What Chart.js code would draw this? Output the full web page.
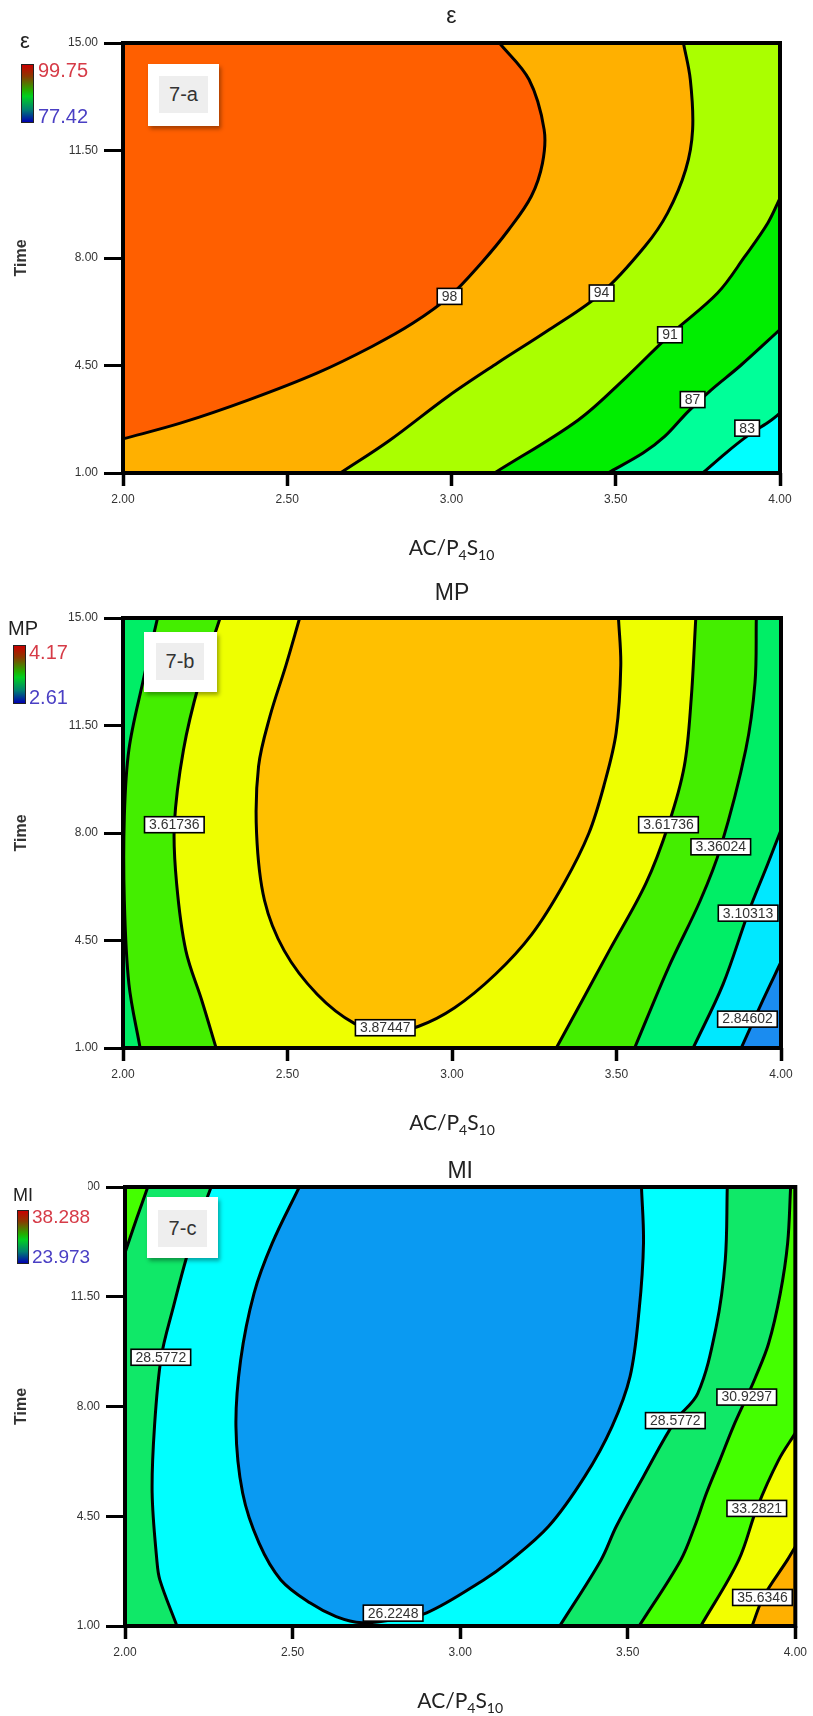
<!DOCTYPE html>
<html>
<head>
<meta charset="utf-8">
<title>Contour plots 7-a / 7-b / 7-c</title>
<script src="https://cdn.jsdelivr.net/npm/chart.js@4.4.1/dist/chart.umd.min.js"></script>
<style>
  html, body { margin: 0; padding: 0; background: #fff; }
  #page { position: relative; width: 813px; height: 1716px; overflow: hidden;
          font-family: "Liberation Sans", Arial, sans-serif; color: #222; }
  #page canvas { position: absolute; left: 0; }
  .txt { position: absolute; white-space: nowrap; }
  .bar { position: absolute; border: 1px solid #222;
         background: linear-gradient(to bottom, #c80000 0%, #8a3a00 20%, #20b000 45%, #00d020 55%, #008070 78%, #0000b0 100%); }
  .hi { color: #d63b47; }
  .lo { color: #4a3fc4; }
  .tag { position: absolute; background: #fff; box-shadow: 2px 3px 4px rgba(0,0,0,0.35); }
  .tag div { position: absolute; background: #eeeeee; color: #333; font-size: 20px; text-align: center; }
</style>
</head>
<body>
<div id="page">
  <canvas id="chartA" width="813" height="572" style="top:0px"></canvas>
  <canvas id="chartB" width="813" height="572" style="top:572px"></canvas>
  <canvas id="chartC" width="813" height="572" style="top:1144px"></canvas>

  <!-- colour keys -->
  <div class="txt" style="left:20px;top:27px;font-size:22px;line-height:28px;">ε</div>
  <div class="bar" style="left:21px;top:64px;width:11px;height:57px;"></div>
  <div class="txt hi" style="left:38px;top:59px;font-size:20px;line-height:22px;">99.75</div>
  <div class="txt lo" style="left:38px;top:105px;font-size:20px;line-height:22px;">77.42</div>

  <div class="txt" style="left:8px;top:617px;font-size:20px;line-height:22px;">MP</div>
  <div class="bar" style="left:13px;top:645px;width:11px;height:57px;"></div>
  <div class="txt hi" style="left:29px;top:641px;font-size:20px;line-height:22px;">4.17</div>
  <div class="txt lo" style="left:29px;top:686px;font-size:20px;line-height:22px;">2.61</div>

  <div style="position:absolute;left:0;top:1176px;width:88px;height:92px;background:#fff;"></div>
  <div class="txt" style="left:13px;top:1185px;font-size:18px;line-height:20px;">MI</div>
  <div class="bar" style="left:17px;top:1210px;width:10px;height:52px;"></div>
  <div class="txt hi" style="left:32px;top:1206px;font-size:19px;line-height:22px;">38.288</div>
  <div class="txt lo" style="left:32px;top:1246px;font-size:19px;line-height:22px;">23.973</div>

  <!-- panel tags -->
  <div class="tag" style="left:148px;top:64px;width:71px;height:62px;"><div style="left:11px;top:12px;width:49px;height:37px;line-height:37px;">7-a</div></div>
  <div class="tag" style="left:144px;top:632px;width:73px;height:60px;"><div style="left:12px;top:11px;width:48px;height:37px;line-height:37px;">7-b</div></div>
  <div class="tag" style="left:147px;top:1197px;width:71px;height:61px;"><div style="left:11px;top:13px;width:49px;height:37px;line-height:37px;">7-c</div></div>
</div>

<script>
/*******************************************
 * DATA
 *******************************************/

const xTickValues = [2, 2.5, 3, 3.5, 4];
const yTickValues = [1, 4.5, 8, 11.5, 15];
const xTitleParts = [["AC/P", false], ["4", true], ["S", false], ["10", true]];

// 7-a : epsilon contours, [AC/P4S10, Time]
const epsC98 = [[3.146, 15], [3.236, 13.81], [3.282, 12.18], [3.277, 11.09], [3.243, 10.01], [3.174, 8.92], [3.091, 7.84], [2.994, 6.75], [2.883, 5.88], [2.758, 5.12], [2.592, 4.26], [2.385, 3.39], [2.177, 2.63], [2.0, 2.11]];
const epsC94 = [[3.706, 15], [3.727, 13.81], [3.734, 12.18], [3.713, 10.88], [3.658, 9.47], [3.589, 8.38], [3.457, 6.86], [3.298, 5.67], [3.14, 4.58], [2.99, 3.5], [2.81, 2.05], [2.662, 1]];
const epsC91 = [[4, 9.95], [3.963, 9.14], [3.893, 8.05], [3.81, 6.86], [3.665, 5.5], [3.53, 4.1], [3.385, 2.72], [3.131, 1]];
const epsC87 = [[4, 5.67], [3.88, 4.5], [3.79, 3.7], [3.72, 3.0], [3.649, 2.19], [3.583, 1.65], [3.476, 1]];
const epsC83 = [[4, 2.95], [3.973, 2.72], [3.9, 2.2], [3.835, 1.65], [3.765, 1]];
const epsLabels = [[2.994, 6.75, "98"], [3.457, 6.86, "94"], [3.665, 5.5, "91"], [3.734, 3.39, "87"], [3.9, 2.46, "83"]];

// 7-b : MP contours
const mpL1 = [[4, 3.8], [3.945, 2.56], [3.879, 1]];                                   // 2.84602
const mpL2 = [[4, 8.1], [3.96, 7.0], [3.9, 5.39], [3.824, 3.08], [3.733, 1]];        // 3.10313
const mpL3a = [[2.105, 15], [2.06, 12.9], [2.018, 10.72], [2.004, 8.53], [2.004, 5.81], [2.018, 3.08], [2.052, 1]];
const mpL3b = [[3.925, 15], [3.921, 12.9], [3.893, 10.72], [3.817, 7.55], [3.755, 5.81], [3.658, 3.62], [3.555, 1]];
const mpL4a = [[2.295, 15], [2.232, 12.9], [2.184, 10.72], [2.156, 8.27], [2.163, 6.35], [2.191, 4.17], [2.24, 2.53], [2.283, 1]];
const mpL4b = [[3.741, 15], [3.727, 12.36], [3.706, 10.17], [3.658, 8.27], [3.589, 6.35], [3.478, 4.17], [3.395, 2.53], [3.317, 1]];
const mpL5 = [[2.537, 15], [2.495, 13.45], [2.447, 11.81], [2.412, 10.17], [2.406, 7.99], [2.43, 5.81], [2.49, 4.17], [2.59, 2.75], [2.703, 1.8], [2.8, 1.5], [2.897, 1.7], [3.008, 2.31], [3.132, 3.4], [3.243, 4.71], [3.34, 6.35], [3.416, 7.99], [3.464, 9.63], [3.499, 11.27], [3.513, 13.45], [3.506, 15]];
const mpLabels = [[2.156, 8.27, "3.61736"], [3.658, 8.27, "3.61736"], [3.817, 7.55, "3.36024"], [3.9, 5.39, "3.10313"], [3.898, 1.94, "2.84602"], [2.797, 1.66, "3.87447"]];

// 7-c : MI contours
const miL35 = [[4, 3.53], [3.976, 3.1], [3.905, 1.93], [3.871, 1]];
const miL33 = [[4, 7.15], [3.95, 6.29], [3.885, 4.75], [3.831, 3.1], [3.718, 1]];
const miL30a = [[2.068, 15], [2.035, 14.0], [2.0, 12.9]];
const miL30b = [[3.986, 15], [3.977, 13.2], [3.955, 11.6], [3.92, 10.0], [3.88, 8.9], [3.855, 8.3], [3.815, 7.36], [3.775, 6.29], [3.735, 5.24], [3.7, 4.18], [3.658, 3.1], [3.534, 1]];
const miL28a = [[2.257, 15], [2.196, 13.2], [2.142, 11.08], [2.108, 9.57], [2.088, 7.36], [2.081, 5.24], [2.095, 3.1], [2.104, 2.47], [2.155, 1]];
const miL28b = [[3.797, 15], [3.791, 12.67], [3.764, 10.55], [3.709, 8.42], [3.642, 7.55], [3.547, 5.77], [3.466, 4.18], [3.42, 3.1], [3.297, 1]];
const miL26 = [[2.52, 15], [2.439, 13.2], [2.385, 11.61], [2.345, 9.48], [2.331, 7.36], [2.351, 5.24], [2.4, 3.64], [2.465, 2.47], [2.553, 1.73], [2.63, 1.3], [2.707, 1.1], [2.8, 1.2], [2.9, 1.42], [3.07, 2.47], [3.142, 3.02], [3.264, 4.18], [3.372, 5.77], [3.453, 7.36], [3.507, 8.96], [3.534, 11.08], [3.547, 13.2], [3.541, 15]];
const miLabels = [[2.107, 9.57, "28.5772"], [3.642, 7.55, "28.5772"], [3.855, 8.3, "30.9297"], [3.885, 4.75, "33.2821"], [3.902, 1.91, "35.6346"], [2.8, 1.41, "26.2248"]];

/*******************************************
 * REGION HELPERS
 *******************************************/

const TENSION = 0.35;
const X0 = 2, X1 = 4, Y0 = 1, Y1 = 15;
const FAR = { L: 1, R: 5, B: -2, T: 18 };
const CORNERS = { bl: [FAR.L, FAR.B], tl: [FAR.L, FAR.T], tr: [FAR.R, FAR.T], br: [FAR.R, FAR.B] };
const BG_RECT = [[FAR.L, FAR.B], [FAR.R, FAR.B], [FAR.R, FAR.T], [FAR.L, FAR.T]];

const rev = (arr) => arr.slice().reverse();
const toXY = (arr) => arr.map(([x, y]) => ({ x, y }));

// push a contour end straight out of the plot, so the fill closes outside the frame
function edgeOut([x, y]) {
  if (y >= Y1) return [x, FAR.T];
  if (y <= Y0) return [x, FAR.B];
  if (x <= X0) return [FAR.L, y];
  return [FAR.R, y];
}

// polygon = contour pieces (ends doubled so the curve matches the drawn line) + far corners
function regionPoints(parts) {
  const pts = [];
  parts.forEach((part) => {
    if (typeof part === "string") {
      pts.push(CORNERS[part]);
      return;
    }
    const first = part[0];
    const last = part[part.length - 1];
    pts.push(edgeOut(first), first, ...part, last, edgeOut(last));
  });
  return toXY(pts);
}

function fillSet(points, color, order, tension) {
  return {
    data: points,
    backgroundColor: color,
    borderColor: "rgba(0,0,0,0)",
    borderWidth: 0,
    fill: "shape",
    tension: tension,
    capBezierPoints: false,
    pointRadius: 0,
    pointHitRadius: 0,
    order: order,
  };
}

function lineSet(arr) {
  return {
    data: toXY(arr),
    borderColor: "#000",
    borderWidth: 3,
    fill: false,
    tension: TENSION,
    capBezierPoints: false,
    pointRadius: 0,
    pointHitRadius: 0,
    order: 0,
  };
}

/*******************************************
 * FRAME, CONTOUR TAGS, X TITLE
 *******************************************/

const overlayPlugin = {
  id: "overlay",
  afterDatasetsDraw(chart, args, opts) {
    const { ctx, chartArea: a } = chart;
    const xs = chart.scales.x;
    const ys = chart.scales.y;
    ctx.save();

    ctx.strokeStyle = "#000";
    ctx.lineWidth = 4;
    ctx.strokeRect(a.left, a.top, a.right - a.left, a.bottom - a.top);

    ctx.font = '14px "Liberation Sans", Arial, sans-serif';
    ctx.textAlign = "center";
    ctx.textBaseline = "middle";
    opts.labels.forEach(([vx, vy, text]) => {
      const px = xs.getPixelForValue(vx);
      const py = ys.getPixelForValue(vy);
      const w = ctx.measureText(text).width + 9;
      const h = 16;
      ctx.fillStyle = "#fff";
      ctx.fillRect(px - w / 2, py - h / 2, w, h);
      ctx.lineWidth = 1.6;
      ctx.strokeRect(px - w / 2, py - h / 2, w, h);
      ctx.fillStyle = "#333";
      ctx.fillText(text, px, py + 0.5);
    });

    // x title with real subscripts
    const mainFont = '21px Lato, "Open Sans", sans-serif';
    const subFont = '14px Lato, "Open Sans", sans-serif';
    let total = 0;
    xTitleParts.forEach(([t, sub]) => {
      ctx.font = sub ? subFont : mainFont;
      total += ctx.measureText(t).width;
    });
    let cx = (a.left + a.right) / 2 - total / 2;
    const base = a.bottom + opts.titleOffset + 7;
    ctx.textAlign = "left";
    ctx.textBaseline = "alphabetic";
    ctx.fillStyle = "#222";
    xTitleParts.forEach(([t, sub]) => {
      ctx.font = sub ? subFont : mainFont;
      ctx.fillText(t, cx, sub ? base + 5 : base);
      cx += ctx.measureText(t).width;
    });

    ctx.restore();
  },
};

/*******************************************
 * PANELS
 *******************************************/

const panels = [
  {
    id: "chartA", title: "ε", titlePad: { top: 3, bottom: 12.4 },
    yWidth: 123, xHeight: 99, padRight: 33,
    background: "#00ffff",
    regions: [
      { parts: [epsC83, "bl", "tl", "tr"], color: "#00ff99" },
      { parts: [epsC87, "bl", "tl", "tr"], color: "#00ee00" },
      { parts: [epsC91, "bl", "tl", "tr"], color: "#aaff00" },
      { parts: [epsC94, "bl", "tl"], color: "#ffb000" },
      { parts: [epsC98, "tl"], color: "#ff5f00" },
    ],
    lines: [epsC83, epsC87, epsC91, epsC94, epsC98],
    labels: epsLabels,
  },
  {
    id: "chartB", title: "MP", titlePad: { top: 8, bottom: 10.4 },
    yWidth: 123, xHeight: 96, padRight: 32,
    background: "#1a8cf0",
    regions: [
      { parts: [mpL1, "bl", "tl", "tr"], color: "#00e8ff" },
      { parts: [mpL2, "bl", "tl", "tr"], color: "#00ee66" },
      { parts: [mpL3a, rev(mpL3b)], color: "#44ee00" },
      { parts: [mpL4a, rev(mpL4b)], color: "#eeff00" },
      { parts: [mpL5], color: "#ffc000" },
    ],
    lines: [mpL1, mpL2, mpL3a, mpL3b, mpL4a, mpL4b, mpL5],
    labels: mpLabels,
  },
  {
    id: "chartC", title: "MI", titlePad: { top: 14, bottom: 1.4 },
    yWidth: 125, xHeight: 90, padRight: 15,
    background: "#ffb000",
    regions: [
      { parts: [miL35, "bl", "tl", "tr"], color: "#f2ff00" },
      { parts: [miL33, "bl", "tl", "tr"], color: "#44ff00" },
      { parts: [miL30a, "bl", rev(miL30b)], color: "#10e868" },
      { parts: [miL28a, rev(miL28b)], color: "#00ffff" },
      { parts: [miL26], color: "#0a9af2" },
    ],
    lines: [miL35, miL33, miL30a, miL30b, miL28a, miL28b, miL26],
    labels: miLabels,
  },
];

Chart.defaults.font.family = '"Liberation Sans", Arial, sans-serif';
Chart.defaults.color = "#333";

panels.forEach((p) => {
  const datasets = [fillSet(toXY(BG_RECT), p.background, 100, 0)];
  p.regions.forEach((r, i) => datasets.push(fillSet(regionPoints(r.parts), r.color, 90 - i, TENSION)));
  p.lines.forEach((l) => datasets.push(lineSet(l)));

  new Chart(document.getElementById(p.id), {
    type: "line",
    data: { datasets: datasets },
    options: {
      responsive: false,
      animation: false,
      events: [],
      layout: { padding: { left: 0, right: p.padRight, top: 0, bottom: 0 } },
      plugins: {
        legend: { display: false },
        tooltip: { enabled: false },
        title: {
          display: true, text: p.title, fullSize: false, color: "#222",
          font: { size: 23, weight: "normal", lineHeight: 1.2 },
          padding: p.titlePad,
        },
        overlay: { labels: p.labels, titleOffset: 75 },
      },
      scales: {
        x: {
          type: "linear", min: X0, max: X1,
          afterBuildTicks: (s) => { s.ticks = xTickValues.map((v) => ({ value: v })); },
          afterFit: (s) => { s.height = p.xHeight; },
          grid: { drawOnChartArea: false, tickLength: 13, tickWidth: 3.5, tickColor: "#000" },
          border: { display: false },
          ticks: { padding: 6, font: { size: 12 }, maxRotation: 0, autoSkip: false, callback: (v) => Number(v).toFixed(2) },
        },
        y: {
          type: "linear", min: Y0, max: Y1,
          afterBuildTicks: (s) => { s.ticks = yTickValues.map((v) => ({ value: v })); },
          afterFit: (s) => { s.width = p.yWidth; },
          grid: { drawOnChartArea: false, tickLength: 19, tickWidth: 3, tickColor: "#000" },
          border: { display: false },
          ticks: { padding: 6, font: { size: 12 }, autoSkip: false, callback: (v) => Number(v).toFixed(2) },
          title: { display: true, text: "Time", color: "#333", font: { size: 16, weight: "bold" }, padding: { top: 12 } },
        },
      },
    },
    plugins: [overlayPlugin],
  });
});
</script>
</body>
</html>
